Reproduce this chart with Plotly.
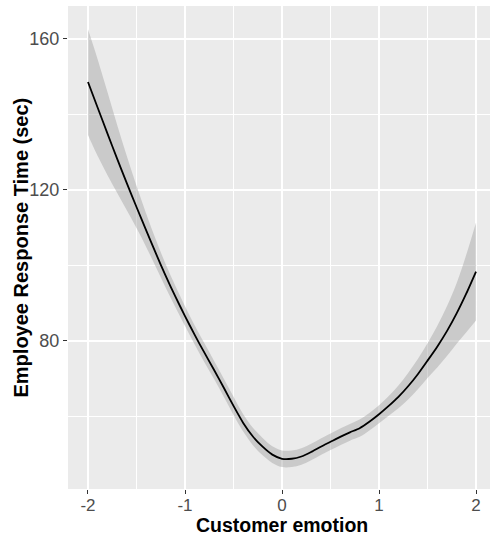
import plotly.graph_objects as go

# ---- data ----
emotion = [-2.0, -1.9, -1.8, -1.7, -1.6, -1.5, -1.4, -1.3, -1.2, -1.1, -1.0,
           -0.9, -0.8, -0.7, -0.6, -0.5, -0.4, -0.3, -0.2, -0.1, 0.0,
           0.1, 0.2, 0.3, 0.4, 0.5, 0.6, 0.7, 0.8, 0.9, 1.0,
           1.1, 1.2, 1.3, 1.4, 1.5, 1.6, 1.7, 1.8, 1.9, 2.0]
response_time = [148.6, 141.8, 135.0, 128.3, 121.8, 115.5, 109.3, 103.2, 97.3, 91.8, 86.6,
                 81.6, 76.9, 72.3, 67.6, 62.8, 58.3, 54.7, 52.0, 49.9, 48.8,
                 48.8, 49.4, 50.6, 52.0, 53.3, 54.6, 55.8, 56.9, 58.6, 60.6,
                 62.8, 65.2, 68.0, 71.2, 74.8, 78.5, 82.6, 87.3, 92.6, 98.4]
half_width = [14.0, 12.8, 11.0, 9.0, 7.2, 5.6, 4.4, 3.6, 3.1, 2.8, 2.6,
              2.5, 2.5, 2.4, 2.4, 2.4, 2.3, 2.3, 2.3, 2.2, 2.2,
              2.2, 2.2, 2.2, 2.2, 2.2, 2.2, 2.2, 2.3, 2.3, 2.4,
              2.6, 3.0, 3.5, 4.0, 4.6, 5.5, 6.6, 8.0, 10.3, 13.0]
lower = [m - h for m, h in zip(response_time, half_width)]
upper = [m + h for m, h in zip(response_time, half_width)]

x_ticks = [-2, -1, 0, 1, 2]
x_minor = [-1.5, -0.5, 0.5, 1.5]
y_ticks = [80, 120, 160]
y_minor = [60, 100, 140]

FONT = "Liberation Sans, Arial, sans-serif"

fig = go.Figure()
fig.add_trace(go.Scatter(x=emotion, y=lower, mode="lines", line=dict(width=0, shape="spline"),
                         hoverinfo="skip", showlegend=False))
fig.add_trace(go.Scatter(x=emotion, y=upper, mode="lines", line=dict(width=0, shape="spline"),
                         fill="tonexty", fillcolor="rgba(153,153,153,0.4)",
                         hoverinfo="skip", showlegend=False))
fig.add_trace(go.Scatter(x=emotion, y=response_time, mode="lines",
                         line=dict(color="black", width=1.8, shape="spline", smoothing=0.6),
                         showlegend=False))

fig.update_layout(
    width=490, height=535,
    margin=dict(l=68, r=0, t=6, b=46),
    paper_bgcolor="white",
    plot_bgcolor="#EBEBEB",
    font=dict(family=FONT, color="#4D4D4D", size=18),
    xaxis=dict(
        range=[-2.206, 2.144], tickvals=x_ticks, ticktext=[str(v) for v in x_ticks],
        showgrid=True, gridcolor="white", gridwidth=1.5, zeroline=False,
        ticks="outside", ticklen=4, tickcolor="#333333", tickwidth=1,
        showline=False, automargin=False, ticklabelstandoff=-3,
        tickfont=dict(family=FONT, size=17, color="#4D4D4D"),
        minor=dict(tickvals=x_minor, showgrid=True, gridcolor="white", gridwidth=0.7, ticks=""),
    ),
    yaxis=dict(
        range=[40.79, 168.74], tickvals=y_ticks, ticktext=[str(v) for v in y_ticks],
        showgrid=True, gridcolor="white", gridwidth=1.5, zeroline=False,
        ticks="outside", ticklen=4, tickcolor="#333333", tickwidth=1,
        showline=False, automargin=False,
        tickfont=dict(family=FONT, size=18, color="#4D4D4D"),
        minor=dict(tickvals=y_minor, showgrid=True, gridcolor="white", gridwidth=0.7, ticks=""),
    ),
    annotations=[
        dict(text="<b>Customer emotion</b>", xref="x", x=0, yref="paper", y=-0.0735,
             xanchor="center", yanchor="middle", showarrow=False,
             font=dict(family=FONT, size=19.5, color="black")),
        dict(text="<b>Employee Response Time (sec)</b>", xref="paper", x=(20 - 68) / 422,
             yref="paper", y=0.5, xanchor="center", yanchor="middle", textangle=-90,
             showarrow=False, font=dict(family=FONT, size=20, color="black")),
    ],
)

fig.write_html("out.html", config={"displayModeBar": False},
               post_script="document.body.style.margin='0';document.body.style.overflow='hidden';")
